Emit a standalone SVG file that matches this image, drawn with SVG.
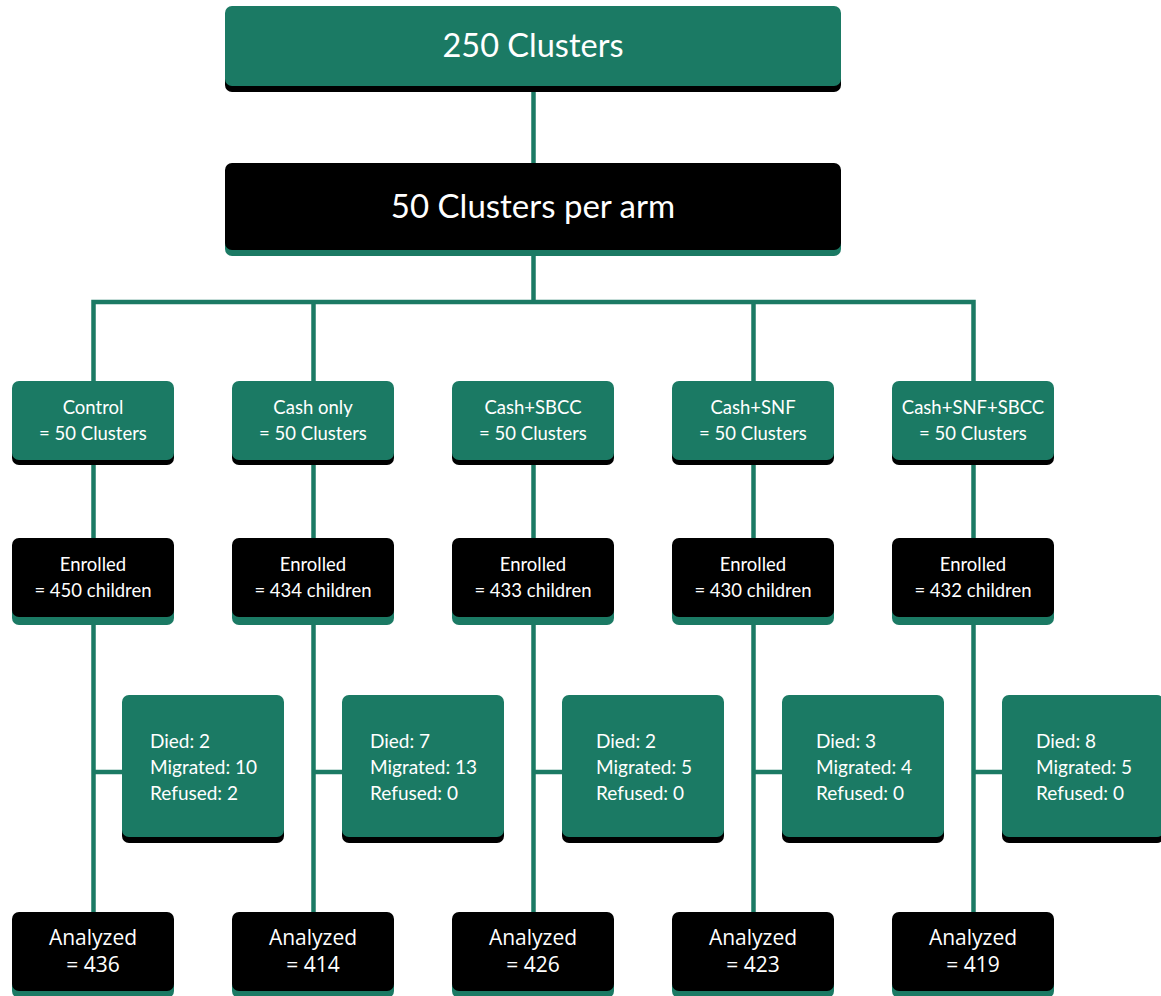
<svg xmlns="http://www.w3.org/2000/svg" width="1161" height="996" viewBox="0 0 1161 996">
<style>
.g{fill:#1b7a64}
.k{fill:#000}
.ln{stroke:#1b7a64;stroke-width:4.5;fill:none}
.t{font-family:Lato,"Open Sans",sans-serif;fill:#fff;text-anchor:middle}
.big{font-size:32.5px}
.mid{font-size:18.5px}
.dl{font-family:Lato,"Open Sans",sans-serif;fill:#fff;font-size:19px}
.an{font-family:"Open Sans","Noto Sans",sans-serif;fill:#fff;text-anchor:middle;font-size:21px}
</style>
<rect width="1161" height="996" fill="#fff"/>
<g id="connectors">
<line class="ln" x1="533.5" y1="86" x2="533.5" y2="165"/>
<line class="ln" x1="533.5" y1="250" x2="533.5" y2="302"/>
<polyline class="ln" points="93.5,382 93.5,302 973.5,302 973.5,382"/>
<line class="ln" x1="313.5" y1="302" x2="313.5" y2="382"/>
<line class="ln" x1="753.5" y1="302" x2="753.5" y2="382"/>
<line class="ln" x1="93.5" y1="460" x2="93.5" y2="540"/>
<line class="ln" x1="313.5" y1="460" x2="313.5" y2="540"/>
<line class="ln" x1="533.5" y1="460" x2="533.5" y2="540"/>
<line class="ln" x1="753.5" y1="460" x2="753.5" y2="540"/>
<line class="ln" x1="973.5" y1="460" x2="973.5" y2="540"/>
<line class="ln" x1="93.5" y1="617" x2="93.5" y2="912"/>
<line class="ln" x1="313.5" y1="617" x2="313.5" y2="912"/>
<line class="ln" x1="533.5" y1="617" x2="533.5" y2="912"/>
<line class="ln" x1="753.5" y1="617" x2="753.5" y2="912"/>
<line class="ln" x1="973.5" y1="617" x2="973.5" y2="912"/>
<line class="ln" x1="93.5" y1="772" x2="124" y2="772"/>
<line class="ln" x1="313.5" y1="772" x2="344" y2="772"/>
<line class="ln" x1="533.5" y1="772" x2="564" y2="772"/>
<line class="ln" x1="753.5" y1="772" x2="784" y2="772"/>
<line class="ln" x1="973.5" y1="772" x2="1004" y2="772"/>
</g>
<g id="n-top">
<rect class="k" x="225" y="12" width="616" height="80" rx="7"/>
<rect class="g" x="225" y="6" width="616" height="80" rx="7"/>
<text class="t big" x="533" y="57">250 Clusters</text>
</g>
<g id="n-arm">
<rect class="g" x="225" y="170" width="616" height="86" rx="7"/>
<rect class="k" x="225" y="163" width="616" height="87" rx="7"/>
<text class="t big" x="533" y="218" style="font-size:33px">50 Clusters per arm</text>
</g>
<g id="n-arms">
<g id="arm1"><rect class="k" x="12" y="387" width="162" height="78" rx="7"/><rect class="g" x="12" y="381" width="162" height="79" rx="7"/><text class="t mid" x="93" y="414">Control</text><text class="t mid" x="93" y="440">= 50 Clusters</text></g>
<g id="arm2"><rect class="k" x="232" y="387" width="162" height="78" rx="7"/><rect class="g" x="232" y="381" width="162" height="79" rx="7"/><text class="t mid" x="313" y="414">Cash only</text><text class="t mid" x="313" y="440">= 50 Clusters</text></g>
<g id="arm3"><rect class="k" x="452" y="387" width="162" height="78" rx="7"/><rect class="g" x="452" y="381" width="162" height="79" rx="7"/><text class="t mid" x="533" y="414">Cash+SBCC</text><text class="t mid" x="533" y="440">= 50 Clusters</text></g>
<g id="arm4"><rect class="k" x="672" y="387" width="162" height="78" rx="7"/><rect class="g" x="672" y="381" width="162" height="79" rx="7"/><text class="t mid" x="753" y="414">Cash+SNF</text><text class="t mid" x="753" y="440">= 50 Clusters</text></g>
<g id="arm5"><rect class="k" x="892" y="387" width="162" height="78" rx="7"/><rect class="g" x="892" y="381" width="162" height="79" rx="7"/><text class="t mid" x="973" y="414">Cash+SNF+SBCC</text><text class="t mid" x="973" y="440">= 50 Clusters</text></g>
</g>
<g id="n-enrolled">
<g id="en1"><rect class="g" x="12" y="545" width="162" height="80" rx="7"/><rect class="k" x="12" y="538" width="162" height="79" rx="7"/><text class="t mid" x="93" y="571">Enrolled</text><text class="t mid" x="93" y="597">= 450 children</text></g>
<g id="en2"><rect class="g" x="232" y="545" width="162" height="80" rx="7"/><rect class="k" x="232" y="538" width="162" height="79" rx="7"/><text class="t mid" x="313" y="571">Enrolled</text><text class="t mid" x="313" y="597">= 434 children</text></g>
<g id="en3"><rect class="g" x="452" y="545" width="162" height="80" rx="7"/><rect class="k" x="452" y="538" width="162" height="79" rx="7"/><text class="t mid" x="533" y="571">Enrolled</text><text class="t mid" x="533" y="597">= 433 children</text></g>
<g id="en4"><rect class="g" x="672" y="545" width="162" height="80" rx="7"/><rect class="k" x="672" y="538" width="162" height="79" rx="7"/><text class="t mid" x="753" y="571">Enrolled</text><text class="t mid" x="753" y="597">= 430 children</text></g>
<g id="en5"><rect class="g" x="892" y="545" width="162" height="80" rx="7"/><rect class="k" x="892" y="538" width="162" height="79" rx="7"/><text class="t mid" x="973" y="571">Enrolled</text><text class="t mid" x="973" y="597">= 432 children</text></g>
</g>
<g id="n-loss">
<g id="lo1"><rect class="k" x="122" y="701" width="162" height="142" rx="7"/><rect class="g" x="122" y="695" width="162" height="142" rx="7"/><text class="dl" x="150" y="748">Died: 2</text><text class="dl" x="150" y="774">Migrated: 10</text><text class="dl" x="150" y="800">Refused: 2</text></g>
<g id="lo2"><rect class="k" x="342" y="701" width="162" height="142" rx="7"/><rect class="g" x="342" y="695" width="162" height="142" rx="7"/><text class="dl" x="370" y="748">Died: 7</text><text class="dl" x="370" y="774">Migrated: 13</text><text class="dl" x="370" y="800">Refused: 0</text></g>
<g id="lo3"><rect class="k" x="562" y="701" width="162" height="142" rx="7"/><rect class="g" x="562" y="695" width="162" height="142" rx="7"/><text class="dl" x="596" y="748">Died: 2</text><text class="dl" x="596" y="774">Migrated: 5</text><text class="dl" x="596" y="800">Refused: 0</text></g>
<g id="lo4"><rect class="k" x="782" y="701" width="162" height="142" rx="7"/><rect class="g" x="782" y="695" width="162" height="142" rx="7"/><text class="dl" x="816" y="748">Died: 3</text><text class="dl" x="816" y="774">Migrated: 4</text><text class="dl" x="816" y="800">Refused: 0</text></g>
<g id="lo5"><rect class="k" x="1002" y="701" width="162" height="142" rx="7"/><rect class="g" x="1002" y="695" width="162" height="142" rx="7"/><text class="dl" x="1036" y="748">Died: 8</text><text class="dl" x="1036" y="774">Migrated: 5</text><text class="dl" x="1036" y="800">Refused: 0</text></g>
</g>
<g id="n-analyzed">
<g id="an1"><rect class="g" x="12" y="918" width="162" height="80" rx="7"/><rect class="k" x="12" y="912" width="162" height="79" rx="7"/><text class="an" x="93" y="945">Analyzed</text><text class="an" x="93" y="972">= 436</text></g>
<g id="an2"><rect class="g" x="232" y="918" width="162" height="80" rx="7"/><rect class="k" x="232" y="912" width="162" height="79" rx="7"/><text class="an" x="313" y="945">Analyzed</text><text class="an" x="313" y="972">= 414</text></g>
<g id="an3"><rect class="g" x="452" y="918" width="162" height="80" rx="7"/><rect class="k" x="452" y="912" width="162" height="79" rx="7"/><text class="an" x="533" y="945">Analyzed</text><text class="an" x="533" y="972">= 426</text></g>
<g id="an4"><rect class="g" x="672" y="918" width="162" height="80" rx="7"/><rect class="k" x="672" y="912" width="162" height="79" rx="7"/><text class="an" x="753" y="945">Analyzed</text><text class="an" x="753" y="972">= 423</text></g>
<g id="an5"><rect class="g" x="892" y="918" width="162" height="80" rx="7"/><rect class="k" x="892" y="912" width="162" height="79" rx="7"/><text class="an" x="973" y="945">Analyzed</text><text class="an" x="973" y="972">= 419</text></g>
</g>
</svg>
